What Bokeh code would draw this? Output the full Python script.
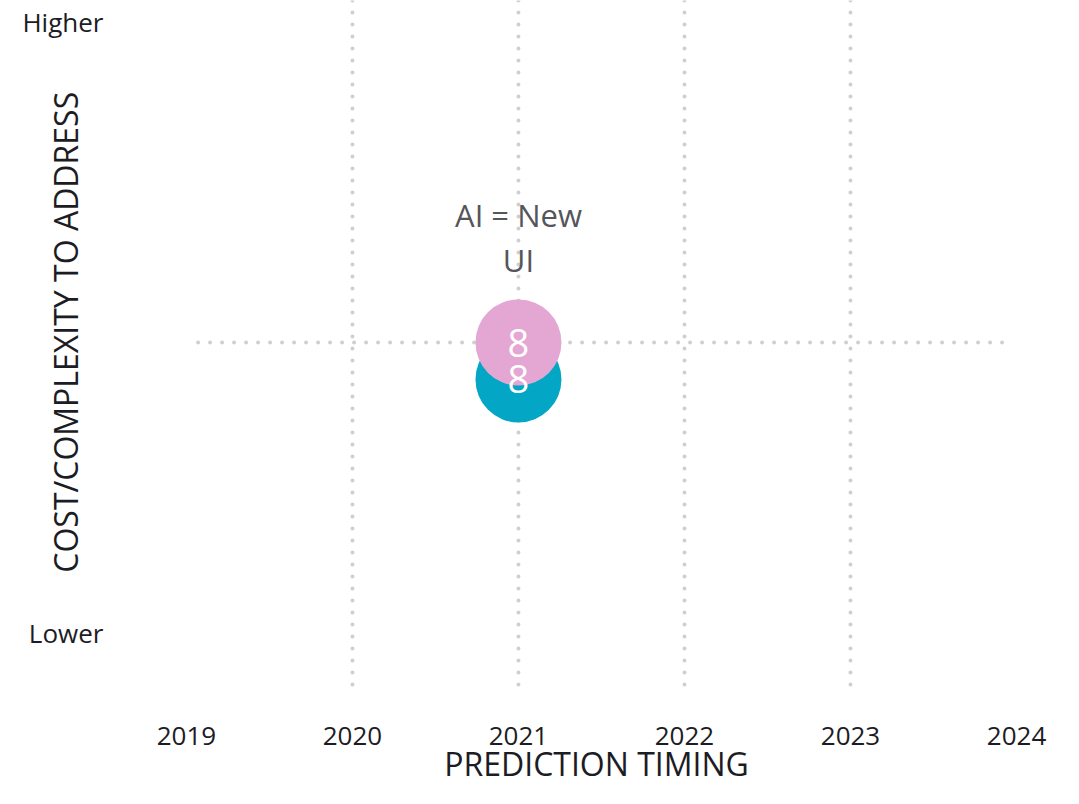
import math
from bokeh.plotting import figure
from bokeh.models import Range1d, ColumnDataSource
from bokeh.core.properties import value
from bokeh.embed import file_html
from bokeh.resources import INLINE

# ---- data ----
years = [2019, 2020, 2021, 2022, 2023, 2024]
year_labels = ["2019", "2020", "2021", "2022", "2023", "2024"]
grid_years = [2020, 2021, 2022, 2023]
level_positions = [0.76, 9.68]
level_labels = ["Lower", "Higher"]
mid_level = 5.0
mid_line_start, mid_line_end = 2019.07, 2023.92
bubble_x = [2021, 2021]
bubble_y = [4.46, 5.0]
bubble_counts = ["8", "8"]
bubble_colors = ["#03a6c4", "#e4a7d4"]
bubble_label = "AI = New\nUI"
x_title = "PREDICTION TIMING"
y_title = "COST/COMPLEXITY TO ADDRESS"

# ---- layout (scale extents; text rows live in the plot's own data space) ----
X0, X1 = 2017.88, 2024.283
Y0, Y1 = -1.52, 10.0
TICK_ROW_Y = -0.75          # row of year labels
TITLE_ROW_Y = -1.16         # centre of the x title
TITLE_X = 2021.47
LEVEL_COL_X = 2018.5        # right edge of Higher / Lower
YTITLE_X, YTITLE_Y = 2018.27, 5.15

FONT = "Open Sans"
TXT = "#1c1c24"
GRID = "#cfcfcf"

p = figure(width=1063, height=788, output_backend="svg", toolbar_location=None,
           x_range=Range1d(X0, X1), y_range=Range1d(Y0, Y1),
           x_axis_location=None, y_axis_location=None, min_border=0)
p.outline_line_color = None
p.xgrid.visible = False
p.ygrid.visible = False
p.background_fill_color = "white"
p.border_fill_color = "white"

# dotted guide lines
p.segment(x0=grid_years, x1=grid_years, y0=[0] * len(grid_years),
          y1=[Y1] * len(grid_years), line_color=GRID, line_width=4,
          line_dash="0 12", line_cap="round")
p.segment(x0=[mid_line_start], x1=[mid_line_end], y0=[mid_level], y1=[mid_level],
          line_color=GRID, line_width=4, line_dash="0 12", line_cap="round")

# bubbles
src = ColumnDataSource(dict(x=bubble_x, y=bubble_y, n=bubble_counts, c=bubble_colors))
p.scatter(x="x", y="y", size=86, fill_color="c", line_color=None, source=src)
p.text(x="x", y="y", text="n", source=src, text_color="white",
       text_font=value(FONT), text_font_size="38px", text_align="center",
       text_baseline="middle")
p.text(x=[bubble_x[1]], y=[bubble_y[1]], text=[bubble_label], text_color="#55555c",
       text_font=value(FONT), text_font_size="31px", text_align="center",
       text_baseline="bottom", text_line_height=1.05, y_offset=-62)

# x tick labels
p.text(x=years, y=[TICK_ROW_Y] * len(years), text=year_labels, text_color=TXT,
       text_font=value(FONT), text_font_size="26px", text_align="center",
       text_baseline="middle")
# y level labels
p.text(x=[LEVEL_COL_X] * len(level_labels), y=level_positions, text=level_labels,
       text_color=TXT, text_font=value(FONT), text_font_size="26px",
       text_align="right", text_baseline="middle")

# axis titles
p.text(x=[TITLE_X], y=[TITLE_ROW_Y], text=[x_title],
       text_color=TXT, text_font=value(FONT), text_font_size="32px",
       text_align="center", text_baseline="middle")
p.text(x=[YTITLE_X], y=[YTITLE_Y], text=[y_title], angle=math.pi / 2,
       text_color=TXT, text_font=value(FONT), text_font_size="32px",
       text_align="center", text_baseline="middle")

open("out.html", "w").write(file_html(p, INLINE))
